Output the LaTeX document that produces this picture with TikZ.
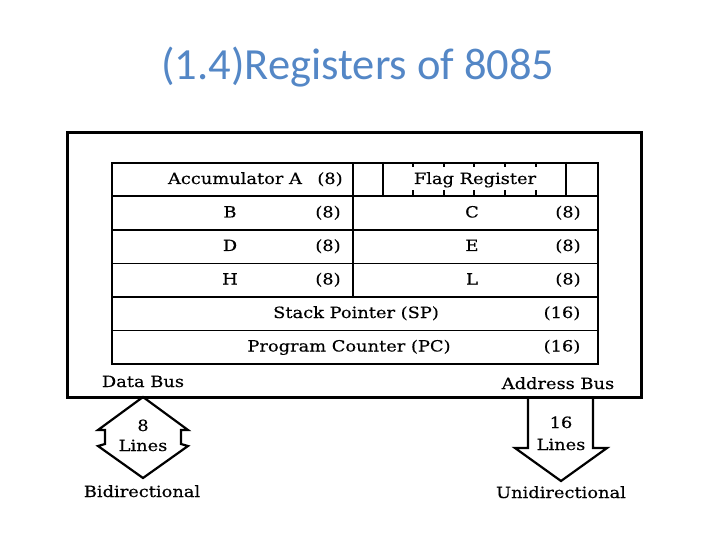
\documentclass[tikz,border=0pt]{standalone}
\usepackage{fontspec}
\setmainfont{DejaVu Serif}[FakeStretch=1.15, FakeBold=0.4]
\newfontfamily\titlefont{Carlito}
\usetikzlibrary{positioning}
\usetikzlibrary{calc}
\definecolor{titleblue}{RGB}{84,135,198}

\begin{document}
\begin{tikzpicture}[x=1pt, y=-1pt,
  cell/.style={draw, line width=1.8pt, anchor=north west, minimum height=33.5pt, inner sep=0pt},
  lbl/.style={font=\fontsize{15.5}{18}\selectfont, inner sep=0pt, anchor=base},
  busarrow/.style={line width=2.2pt, line join=miter}]

\useasboundingbox (0,0) rectangle (720,540);

% title
\node[font=\titlefont\fontsize{44.5}{50}\selectfont, text=titleblue, anchor=base] (title) at (358,80) {(1.4)Registers of 8085};

% outer box
\node[draw, line width=3.2pt, anchor=north west, minimum width=574pt, minimum height=265pt, inner sep=0pt] (chip) at (66,131) {};

% 1st row: accumulator and flags
\node[cell, minimum width=241pt] (acc) at (111,162) {};
\node[cell, minimum width=245pt] (flag) at (352,162) {};
\draw[line width=1.8pt] (383,162) -- (383,195.5);
\draw[line width=1.8pt] (566,162) -- (566,195.5);
\foreach \x in {413,444,474,505,536} {
  \draw[line width=1.5pt] (\x,162) -- (\x,167);
  \draw[line width=1.5pt] (\x,195.5) -- (\x,190.5);
}
\node[lbl] (acctxt) at (235,184) {Accumulator A};
\node[lbl] (accbits) at (330,184) {(8)};
\node[lbl] (flagtxt) at (475,184) {Flag Register};

% register pairs
\node[cell, minimum width=241pt] (regb) at (111,195.5) {};
\node[cell, minimum width=245pt] (regc) at (352,195.5) {};
\node[cell, minimum width=241pt] (regd) at (111,229) {};
\node[cell, minimum width=245pt] (rege) at (352,229) {};
\node[cell, minimum width=241pt] (regh) at (111,262.5) {};
\node[cell, minimum width=245pt] (regl) at (352,262.5) {};

\node[lbl] (btxt) at (230,217.5) {B};
\node[lbl] (bbits) at (328,217.5) {(8)};
\node[lbl] (ctxt) at (472,217.5) {C};
\node[lbl] (cbits) at (568,217.5) {(8)};
\node[lbl] (dtxt) at (230,251) {D};
\node[lbl] (dbits) at (328,251) {(8)};
\node[lbl] (etxt) at (472,251) {E};
\node[lbl] (ebits) at (568,251) {(8)};
\node[lbl] (htxt) at (230,284.5) {H};
\node[lbl] (hbits) at (328,284.5) {(8)};
\node[lbl] (ltxt) at (472,284.5) {L};
\node[lbl] (lbits) at (568,284.5) {(8)};

% 16 bit registers
\node[cell, minimum width=486pt] (sp) at (111,296) {};
\node[cell, minimum width=486pt] (pc) at (111,329.5) {};
\node[lbl] (sptxt) at (356,318) {Stack Pointer (SP)};
\node[lbl] (spbits) at (562,318) {(16)};
\node[lbl] (pctxt) at (349,351.5) {Program Counter (PC)};
\node[lbl] (pcbits) at (562,351.5) {(16)};

% buses
\node[lbl] (databus) at (143,387) {Data Bus};
\node[lbl] (addrbus) at (558,389) {Address Bus};

\draw[busarrow] (143,397) -- (98,430) -- (105,430) -- (105,444) -- (98,446) -- (143,478)
  -- (188,446) -- (181,444) -- (181,430) -- (188,430) -- cycle;
\node[lbl] (datan) at (143,431) {8};
\node[lbl] (datal) at (143,451) {Lines};
\node[lbl] (bidir) at (142,497) {Bidirectional};

\draw[busarrow] (528,397) -- (528,448) -- (515,448) -- (561,481) -- (607,448) -- (593,448) -- (593,397);
\node[lbl] (addrn) at (561,428) {16};
\node[lbl] (addrl) at (561,450) {Lines};
\node[lbl] (unidir) at (561,498) {Unidirectional};
\end{tikzpicture}
\end{document}
